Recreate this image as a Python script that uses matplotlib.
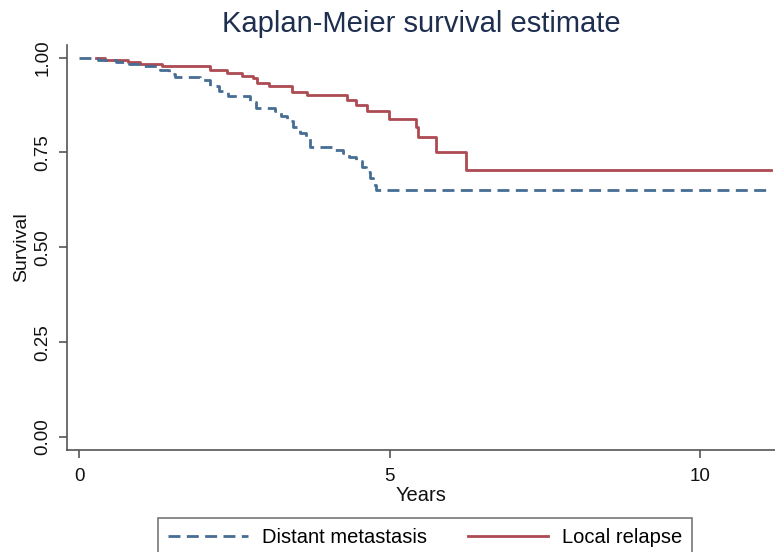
import matplotlib
matplotlib.use("Agg")
from matplotlib import pyplot as plt

plt.rcParams['font.family'] = ['Liberation Sans', 'DejaVu Sans']

# Kaplan-Meier step estimates (time in years, survival)
dm_time = [0.0, 0.30, 0.60, 0.80, 1.00, 1.30, 1.45, 1.55, 1.95, 2.10, 2.25, 2.40,
           2.75, 2.85, 3.15, 3.25, 3.35, 3.45, 3.55, 3.65, 3.72, 4.10, 4.25, 4.35,
           4.45, 4.55, 4.62, 4.68, 4.73, 4.78, 11.14]
dm_surv = [1.000, 0.995, 0.989, 0.984, 0.978, 0.968, 0.958, 0.949, 0.940, 0.925, 0.912, 0.898,
           0.884, 0.868, 0.858, 0.846, 0.832, 0.818, 0.802, 0.788, 0.764, 0.757, 0.748, 0.738,
           0.727, 0.712, 0.698, 0.682, 0.665, 0.650, 0.650]

lr_time = [0.28, 0.42, 0.79, 0.98, 1.33, 2.10, 2.38, 2.63, 2.80, 2.87, 3.06, 3.43,
           3.67, 4.31, 4.45, 4.63, 4.99, 5.43, 5.46, 5.75, 6.23, 11.14]
lr_surv = [1.000, 0.995, 0.989, 0.982, 0.977, 0.968, 0.960, 0.952, 0.946, 0.934, 0.925, 0.910,
           0.902, 0.889, 0.876, 0.858, 0.838, 0.818, 0.792, 0.750, 0.704, 0.704]

x_ticks = [0, 5, 10]
y_ticks = [0.0, 0.25, 0.5, 0.75, 1.0]

blue = '#466d94'
red = '#ad4a52'
axis_col = '#555555'

fig = plt.figure(figsize=(7.75, 5.52), dpi=100)
ax = fig.add_axes([0.086, 0.185, 0.914, 0.734])

ax.step(lr_time, lr_surv, where='post', color=red, lw=2, label='Local relapse')
ax.step(dm_time, dm_surv, where='post', color=blue, lw=2, dashes=(4.3, 2.3),
        label='Distant metastasis')

ax.set_xlim(-0.2, 11.2)
ax.set_ylim(-0.034, 1.034)
ax.set_xticks(x_ticks)
ax.set_yticks(y_ticks)
ax.set_yticklabels(['%.2f' % v for v in y_ticks], rotation=90, va='center')

for s in ['top', 'right']:
    ax.spines[s].set_visible(False)
for s in ['left', 'bottom']:
    ax.spines[s].set_color(axis_col)
    ax.spines[s].set_linewidth(1.2)
ax.tick_params(direction='out', length=6, width=1.2, color=axis_col,
               labelsize=13.5, labelcolor='#111111')
ax.tick_params(axis='x', pad=7)
ax.tick_params(axis='y', pad=5)

ax.set_xlabel('Years', fontsize=14.5, color='#111111', labelpad=1)
ax.set_ylabel('Survival', fontsize=14, color='#111111', labelpad=3)
ax.set_title('Kaplan-Meier survival estimate', fontsize=21, color='#1e2e4f', pad=9)

handles, labels = ax.get_legend_handles_labels()
leg = fig.legend(handles[::-1], labels[::-1], loc='upper center', ncol=2,
                 bbox_to_anchor=(425 / 775, 1 - 518 / 552), borderaxespad=0,
                 fontsize=14.5, frameon=True, fancybox=False, edgecolor=axis_col,
                 handlelength=4.0, handletextpad=0.7, columnspacing=2.0,
                 borderpad=0.5)
leg.get_frame().set_linewidth(1.2)

fig.savefig('out.png', dpi=100)
